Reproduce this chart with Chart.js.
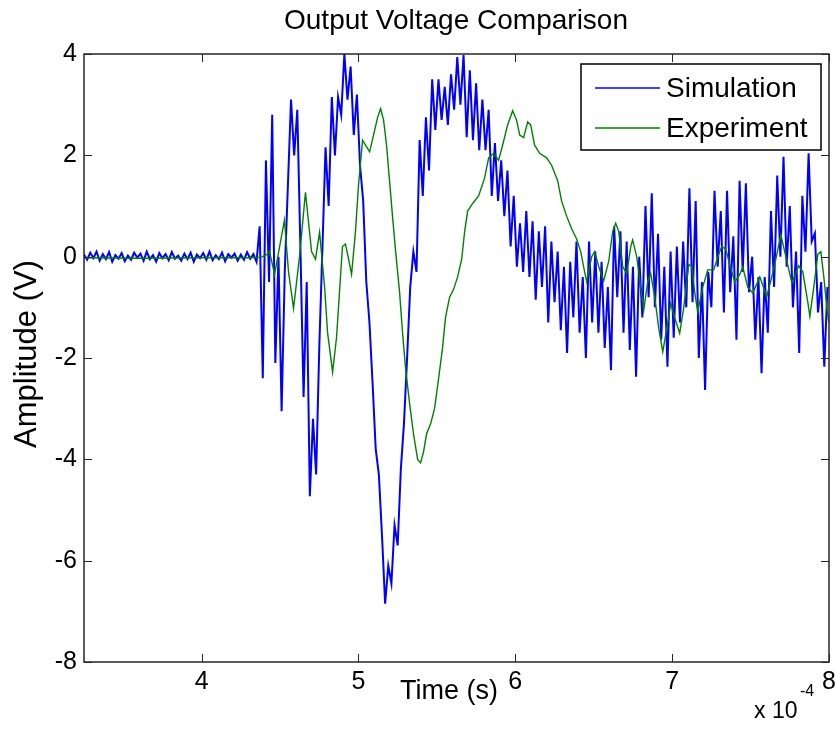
<!DOCTYPE html>
<html>
<head>
<meta charset="utf-8">
<script src="https://cdn.jsdelivr.net/npm/chart.js@4.4.1/dist/chart.umd.min.js"></script>
<style>
  html, body { margin: 0; padding: 0; background: #fff; }
  #wrap { width: 835px; height: 745px; }
</style>
</head>
<body>
<div id="wrap"><canvas id="grafico" width="835" height="745"></canvas></div>
<script>
// time axis is in units of 1e-4 s (the "x 10^-4" factor is drawn at the corner)
const xTicks = [4, 5, 6, 7, 8];
const yTicks = [-8, -6, -4, -2, 0, 2, 4];

// simulation: sampled every 0.02 (x1e-4 s) from 3.25
const SIM_T0 = 3.25;
const SIM_DT = 0.02;
const simVolt = [
  0.04, -0.06, 0.08, -0.03, 0.1, -0.08, 0.05, -0.05, 0.09, -0.1,
  0.03, -0.04, 0.07, -0.09, 0.02, -0.06, 0.08, -0.02, 0.06, -0.08,
  0.1, -0.05, 0.03, -0.1, 0.07, -0.03, 0.05, -0.07, 0.09, -0.04,
  0.02, -0.08, 0.06, -0.05, 0.08, -0.1, 0.04, -0.03, 0.07, -0.06,
  0.1, -0.07, 0.03, -0.05, 0.08, -0.09, 0.05, -0.02, 0.06, -0.08,
  0.04, -0.06, 0.09, -0.04, 0.05, -0.1,
  0.6, -2.4, 1.9, -0.5, 2.8, -2.1, 0.0, -3.05, -0.3, 1.4,
  3.1, 2.0, 2.9, 0.15, -2.77, -0.5, -4.73, -3.2, -4.3, -1.8,
  0.15, 2.16, 1.0, 3.15, 2.0, 3.15, 2.8, 4.0, 3.1, 3.75,
  2.4, 3.2, 1.8, 1.1, -0.5, -1.3, -2.5, -3.8, -4.3, -5.5,
  -6.85, -6.1, -6.45, -5.3, -5.7, -4.2, -3.3, -2.0, -0.6, 0.1,
  -0.3, 2.3, 1.2, 2.75, 1.7, 3.5, 2.5, 3.5, 2.7, 3.35,
  2.6, 3.6, 2.9, 3.94, 3.0, 3.98, 2.36, 3.68, 2.3, 3.42,
  2.1, 3.1, 2.1, 2.9, 1.2, 2.24, 1.1, 1.9, 0.8, 1.7,
  0.2, 1.2, -0.2, 0.66, -0.3, 0.9, -0.4, 0.7, -0.85, 0.5,
  -0.6, 0.6, -1.3, 0.3, -0.9, 0.1, -1.45, -0.2, -1.9, -0.1,
  -1.2, 0.3, -1.5, -0.4, -2.0, 0.3, -1.3, 0.1, -1.5, -0.1,
  -1.8, -0.6, -2.24, 0.6, -0.8, 0.5, -1.5, 0.3, -1.84, -0.2,
  -2.37, 0.0, -1.2, 1.0, -0.8, 1.25, -1.0, 0.45, -1.64, -0.2,
  -2.17, 0.1, -1.6, 0.2, -1.3, 0.3, -1.0, 1.35, -0.9, 1.1,
  -2.0, -0.5, -2.63, -0.3, -1.0, 1.3, -0.2, 0.9, -1.1, 1.3,
  -0.7, 0.4, -1.64, 1.5, -0.3, 1.45, -0.7, 0.0, -1.64, -0.4,
  -2.3, -0.4, -1.5, 0.9, -0.6, 1.6, 0.0, 1.97, -0.2, 1.0,
  -1.0, 0.1, -1.9, 1.2, 0.1, 2.04, 0.3, 0.46, -1.1, -0.5,
  -2.17, -0.6
];

const expTime = [
  3.25, 3.6, 4.0, 4.3, 4.382, 4.42, 4.433, 4.465, 4.509, 4.528,
  4.554, 4.586, 4.624, 4.662, 4.701, 4.726, 4.752, 4.784, 4.803, 4.835,
  4.86, 4.879, 4.898, 4.917, 4.937, 4.956, 4.981, 5.0, 5.026, 5.045,
  5.071, 5.096, 5.122, 5.141, 5.16, 5.179, 5.198, 5.217, 5.237, 5.262,
  5.281, 5.3, 5.326, 5.351, 5.377, 5.396, 5.415, 5.434, 5.46, 5.485,
  5.511, 5.536, 5.555, 5.581, 5.606, 5.632, 5.658, 5.677, 5.696, 5.728,
  5.766, 5.804, 5.83, 5.862, 5.893, 5.919, 5.951, 5.983, 6.008, 6.028,
  6.053, 6.079, 6.098, 6.123, 6.155, 6.2, 6.232, 6.27, 6.295, 6.327,
  6.359, 6.391, 6.417, 6.442, 6.455, 6.487, 6.506, 6.532, 6.563, 6.595,
  6.621, 6.64, 6.659, 6.685, 6.71, 6.736, 6.748, 6.774, 6.799, 6.819,
  6.844, 6.863, 6.889, 6.914, 6.94, 6.972, 6.991, 7.016, 7.048, 7.074,
  7.106, 7.125, 7.144, 7.163, 7.195, 7.227, 7.265, 7.297, 7.316, 7.342,
  7.367, 7.399, 7.431, 7.45, 7.482, 7.514, 7.559, 7.603, 7.635, 7.661,
  7.693, 7.725, 7.763, 7.807, 7.833, 7.865, 7.878, 7.903, 7.929, 7.948,
  7.967, 7.986, 7.999
];
const expVolt = [
  -0.02, -0.03, -0.02, -0.02, -0.01, 0.05, 0.1, -0.35, 0.4, 0.72,
  -0.3, -1.02, 0.0, 1.27, 0.1, -0.05, 0.48, -0.6, -1.5, -2.28,
  -1.6, -0.7, 0.2, 0.25, -0.05, -0.35, 0.5, 1.4, 2.3, 2.2,
  2.07, 2.4, 2.75, 2.92, 2.7, 2.2, 1.5, 0.8, 0.1, -0.7,
  -1.5, -2.2, -2.9, -3.5, -4.0, -4.07, -3.85, -3.5, -3.3, -3.0,
  -2.4, -1.8, -1.2, -0.8, -0.65, -0.4, -0.05, 0.5, 0.9, 1.05,
  1.2, 1.55, 1.95, 2.04, 1.9, 2.2, 2.6, 2.88, 2.7, 2.4,
  2.35, 2.66, 2.6, 2.2, 2.04, 1.95, 1.8, 1.5, 1.1, 0.8,
  0.55, 0.35, 0.1, -0.3, -0.49, 0.0, 0.1, -0.2, -0.48, -0.1,
  0.5, 0.66, 0.5, -0.2, -0.33, 0.2, 0.33, 0.0, -0.6, -1.05,
  -0.5, -0.33, -0.8, -1.4, -1.88, -1.3, -0.92, -1.2, -1.51, -1.0,
  -0.15, -0.2, -0.7, -1.09, -0.6, -0.26, -0.26, 0.05, 0.2, 0.15,
  -0.15, -0.5, -0.35, -0.2, -0.6, -0.72, -0.4, -0.79, -0.4, -0.05,
  0.43, 0.0, -0.52, -0.18, -0.3, -0.9, -1.18, -0.6, 0.05, 0.1,
  -0.4, -1.0, -1.3
];

const simTime = simVolt.map((_, i) => SIM_T0 + i * SIM_DT);

const FONTE = "'Liberation Sans', Arial, sans-serif";

function pontos(tempos, valores) {
  return tempos.map((t, i) => ({ x: t, y: valores[i] }));
}

const moldura = {
  id: "moldura",
  afterDatasetsDraw(chart) {
    const { ctx, chartArea: a, scales } = chart;
    ctx.save();
    ctx.strokeStyle = "#262626";
    ctx.lineWidth = 1.5;
    ctx.strokeRect(a.left, a.top, a.right - a.left, a.bottom - a.top);
    ctx.lineWidth = 1;
    ctx.beginPath();
    xTicks.forEach(v => {
      const x = Math.round(scales.x.getPixelForValue(v)) + 0.5;
      ctx.moveTo(x, a.bottom); ctx.lineTo(x, a.bottom - 8);
      ctx.moveTo(x, a.top); ctx.lineTo(x, a.top + 8);
    });
    yTicks.forEach(v => {
      const y = Math.round(scales.y.getPixelForValue(v)) + 0.5;
      ctx.moveTo(a.left, y); ctx.lineTo(a.left + 8, y);
      ctx.moveTo(a.right, y); ctx.lineTo(a.right - 8, y);
    });
    ctx.stroke();

    // legend box
    const lx = 581, ly = 64, lw = 240, lh = 86;
    ctx.fillStyle = "#fff";
    ctx.fillRect(lx, ly, lw, lh);
    ctx.strokeStyle = "#000";
    ctx.lineWidth = 1.5;
    ctx.strokeRect(lx, ly, lw, lh);
    const legendOrder = [1, 0];
    legendOrder.forEach((di, k) => {
      const ds = chart.data.datasets[di];
      const y = ly + 24 + k * 40;
      ctx.strokeStyle = ds.borderColor;
      ctx.lineWidth = 1.5;
      ctx.beginPath();
      ctx.moveTo(lx + 14, y); ctx.lineTo(lx + 79, y);
      ctx.stroke();
      ctx.fillStyle = "#000";
      ctx.font = "28px " + FONTE;
      ctx.textAlign = "left";
      ctx.textBaseline = "middle";
      ctx.fillText(ds.label, lx + 85, y + 1);
    });

    // title, axis titles, exponent
    ctx.fillStyle = "#000";
    ctx.textAlign = "center";
    ctx.textBaseline = "middle";
    ctx.font = "28px " + FONTE;
    ctx.fillText("Output Voltage Comparison", 456, 21);
    ctx.font = "27px " + FONTE;
    ctx.fillText("Time (s)", 449, 692);
    ctx.save();
    ctx.translate(27, 354);
    ctx.rotate(-Math.PI / 2);
    ctx.font = "31px " + FONTE;
    ctx.fillText("Amplitude (V)", 0, 0);
    ctx.restore();
    ctx.textAlign = "left";
    ctx.font = "23px " + FONTE;
    ctx.fillText("x 10", 754, 712);
    ctx.font = "16px " + FONTE;
    ctx.fillText("-4", 800, 692);
    ctx.restore();
  }
};

new Chart(document.getElementById("grafico"), {
  type: "line",
  data: {
    datasets: [
      {
        label: "Experiment",
        data: pontos(expTime, expVolt),
        borderColor: "#008000",
        borderWidth: 1.4,
        pointRadius: 0,
        tension: 0,
        order: 0
      },
      {
        label: "Simulation",
        data: pontos(simTime, simVolt),
        borderColor: "#0000ff",
        borderWidth: 2,
        pointRadius: 0,
        tension: 0,
        order: 1
      }
    ]
  },
  options: {
    responsive: false,
    animation: false,
    layout: { padding: { top: 54, right: 6, left: 0, bottom: 0 } },
    plugins: { legend: { display: false }, tooltip: { enabled: false } },
    scales: {
      x: {
        type: "linear",
        min: 3.25,
        max: 8,
        afterBuildTicks: axis => { axis.ticks = xTicks.map(v => ({ value: v })); },
        afterFit: axis => { axis.height = 83; axis.paddingLeft = 0; axis.paddingRight = 0; },
        grid: { display: false, drawTicks: false },
        border: { display: false },
        ticks: { color: "#000", font: { family: FONTE, size: 25 }, padding: 5, maxRotation: 0 }
      },
      y: {
        min: -8,
        max: 4,
        afterBuildTicks: axis => { axis.ticks = yTicks.map(v => ({ value: v })); },
        afterFit: axis => { axis.width = 84; axis.paddingTop = 0; axis.paddingBottom = 0; },
        grid: { display: false, drawTicks: false },
        border: { display: false },
        ticks: { color: "#000", font: { family: FONTE, size: 25 }, padding: 7 }
      }
    }
  },
  plugins: [moldura]
});
</script>
</body>
</html>
